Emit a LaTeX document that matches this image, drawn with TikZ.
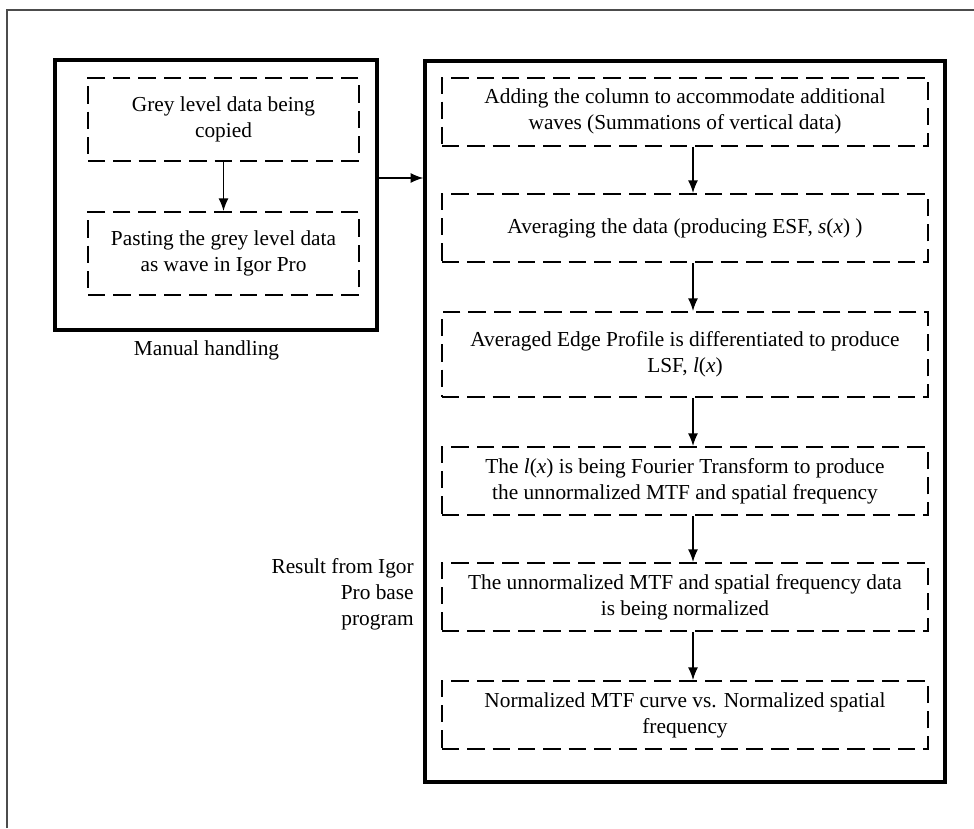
\documentclass[tikz,border=0pt]{standalone}
\usepackage{fontspec}
\setmainfont{Liberation Serif}
\usetikzlibrary{arrows.meta,shapes,calc,positioning}
\tikzset{
  stage/.style={draw=black,line width=1.5pt,dash pattern=on 13pt off 6pt,align=center,
    minimum width=364.5pt,minimum height=51pt,inner sep=2pt},
  stagel/.style={stage,minimum width=203.25pt,minimum height=62.25pt},
  holder/.style={draw=black,line width=2.6pt},
  frame/.style={draw=black!70,line width=1.2pt},
  flow/.style={line width=1pt,-{Latex[length=9.5pt,width=7.5pt]}}
}
\begin{document}
\begin{tikzpicture}[x=0.75pt,y=-0.75pt,font=\fontsize{16}{19.5}\selectfont]
      \useasboundingbox (0,0) rectangle (974,828);
      \draw[frame] (7,828) -- (7,10) -- (974,10); % outer frame
      \node[holder,minimum width=241.5pt,minimum height=202.5pt] (manual) at (216,195) {}; % manual box
      \node[stagel] (grey) at (223.5,119.5) {Grey level data being\\copied};
      \node[stagel] (paste) at (223.5,253.5) {Pasting the grey level data\\as wave in Igor Pro};
      \node (manuallbl) at (206.5,350) {Manual handling};
      \node[holder,minimum width=390pt,minimum height=540.75pt] (igor) at (685,421.5) {}; % igor box
      \node[stage] (addcol) at (685,111.5) {Adding the column to accommodate additional\\waves (Summations of vertical data)};
      \node[stage,minimum height=51pt] (avg) at (685,228) {Averaging the data (producing ESF, \textit{s}(\textit{x}) )};
      \node[stage,minimum height=63.75pt] (diff) at (685,354.5) {Averaged Edge Profile is differentiated to produce\\LSF,\ \textit{l}(\textit{x})};
      \node[stage] (fourier) at (685,481) {The \textit{l}(\textit{x}) is being Fourier Transform to produce\\the unnormalized MTF and spatial frequency};
      \node[stage] (norm) at (685,597) {The unnormalized MTF and spatial frequency data\\is being normalized};
      \node[stage] (result) at (685,715) {Normalized MTF curve vs. Normalized spatial\\frequency};
      \node[align=right,anchor=east,inner sep=0pt] (igorlbl) at (414,594) {Result from Igor\\Pro base\\program};
      \draw[flow] (grey) -- (paste); % copy to paste
      \draw[flow] ([yshift=12.75pt]manual.east) -- ([yshift=12.75pt]manual.east -| igor.west); % into igor
      \foreach \a/\b in {addcol/avg,avg/diff,diff/fourier,fourier/norm,norm/result}
        \draw[flow] ([xshift=6pt]\a.south) -- ([xshift=6pt]\b.north); % steps
\end{tikzpicture}
\end{document}
